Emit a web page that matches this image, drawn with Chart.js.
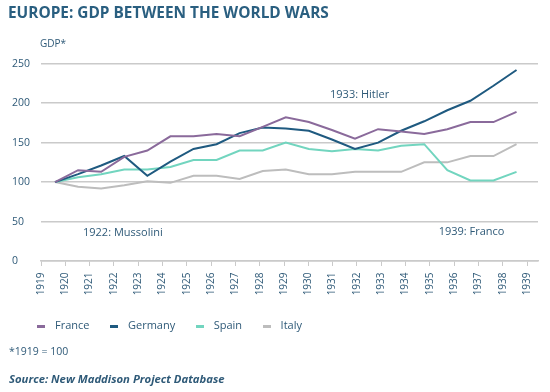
<!DOCTYPE html>
<html>
<head>
<meta charset="utf-8">
<script src="https://cdn.jsdelivr.net/npm/chart.js@4.4.1/dist/chart.umd.min.js"></script>
<style>
  body { margin: 0; background: #fff; }
  #wrap { width: 550px; height: 392px; }
</style>
</head>
<body>
<div id="wrap"><canvas id="gdpChart"></canvas></div>
<script>
/* ----- data (1919 = 100) ----- */
const years = [1919, 1920, 1921, 1922, 1923, 1924, 1925, 1926, 1927, 1928, 1929,
               1930, 1931, 1932, 1933, 1934, 1935, 1936, 1937, 1938, 1939];
const france  = [100, 115, 113, 132, 140, 158, 158, 161, 158, 170, 182, 176, 166, 155, 167, 164, 161, 167, 176, 176, 189];
const germany = [100, 110, 121, 133, 108, 126, 142, 148, 162, 169, 168, 165, 154, 142, 150, 165, 177, 191, 203, 222, 242];
const spain   = [100, 106, 110, 116, 116, 119, 128, 128, 140, 140, 150, 142, 139, 142, 140, 146, 148, 115, 102, 102, 113];
const italy   = [100,  94,  92,  96, 101,  99, 108, 108, 104, 114, 116, 110, 110, 113, 113, 113, 125, 125, 133, 133, 148];

const seriesNames  = ['France', 'Germany', 'Spain', 'Italy'];
const seriesValues = [france, germany, spain, italy];
const seriesColors = ['#8a6a9b', '#1f5a80', '#72d5bf', '#bdbdbd'];

const yMax = 250;
const yStep = 50;

// text labels placed on the chart (year / value positions)
const notes = [
  { text: '1922: Mussolini', year: 1921.94, value: 36 },
  { text: '1933: Hitler',    year: 1932.2,  value: 210.7 },
  { text: '1939: Franco',    year: 1937.05, value: 36.7 }
];

const textColor = '#2f5a78';
const gridColor = '#cacaca';
const font = "'Open Sans', sans-serif";
Chart.defaults.font.family = font;
Chart.defaults.color = textColor;

/* small line marker for the legend */
function legendLine(color) {
  const c = document.createElement('canvas');
  c.width = 8; c.height = 3;
  const g = c.getContext('2d');
  g.fillStyle = color;
  g.fillRect(0, 0, 8, 3);
  return c;
}

/* extra texts: axis caption, event notes, footnotes */
const extraText = {
  id: 'extraText',
  afterLayout(chart) {
    chart.titleBlock.left -= 4;
    chart.legend.left += 4.5;
  },
  afterDraw(chart) {
    const ctx = chart.ctx;
    const xs = chart.scales.x2, ys = chart.scales.y;
    ctx.save();
    ctx.fillStyle = textColor;
    ctx.textBaseline = 'middle';

    ctx.textAlign = 'left';
    ctx.font = `10px ${font}`;
    ctx.fillText('GDP*', chart.chartArea.left - 1, chart.chartArea.top - 20);

    ctx.textAlign = 'center';
    ctx.font = `11px ${font}`;
    notes.forEach(n => {
      ctx.fillText(n.text, xs.getPixelForValue(n.year), ys.getPixelForValue(n.value));
    });

    ctx.textAlign = 'left';
    ctx.font = `10.5px ${font}`;
    ctx.fillText('*1919 = 100', 9, 352);
    ctx.font = `italic bold 11.3px ${font}`;
    ctx.fillText('Source: New Maddison Project Database', 9, 380);
    ctx.restore();
  }
};

new Chart(document.getElementById('gdpChart'), {
  type: 'line',
  data: {
    labels: years,
    datasets: seriesNames.map((name, i) => ({
      label: name,
      data: seriesValues[i],
      xAxisID: 'x2',
      borderColor: seriesColors[i],
      backgroundColor: seriesColors[i],
      borderWidth: 2,
      pointRadius: 0,
      pointStyle: legendLine(seriesColors[i]),
      tension: 0
    }))
  },
  options: {
    responsive: true,
    maintainAspectRatio: false,
    animation: false,
    layout: { padding: { left: 12, right: 12, top: 0, bottom: 50.5 } },
    plugins: {
      title: {
        display: true,
        text: 'EUROPE: GDP BETWEEN THE WORLD WARS',
        align: 'start',
        color: '#2a5f80',
        font: { size: 15.4, weight: 'bold' },
        padding: { top: 4.5, bottom: 40.7 }
      },
      legend: {
        position: 'bottom',
        align: 'start',
        labels: {
          usePointStyle: true,
          pointStyleWidth: 17,
          padding: 16,
          color: textColor,
          font: { size: 11 }
        }
      },
      tooltip: { enabled: false }
    },
    scales: {
      x: {
        type: 'linear',
        min: years[0],
        max: 1939.45,
        grid: { drawOnChartArea: false, drawTicks: true, tickLength: 5, color: gridColor },
        border: { display: true, color: gridColor, width: 1.5 },
        ticks: {
          stepSize: 1,
          includeBounds: false,
          autoSkip: false,
          minRotation: 90,
          maxRotation: 90,
          padding: 6.5,
          color: textColor,
          font: { size: 10 },
          callback: v => years.includes(v) ? String(v) : ''
        },
        afterFit: s => { s.height = 43.5; }
      },
      x2: {
        type: 'linear',
        display: false,
        min: 1918.393,
        max: 1939.93
      },
      y: {
        min: 0,
        max: yMax,
        grid: { color: gridColor, lineWidth: 1.5, drawTicks: false },
        border: { display: false },
        ticks: {
          stepSize: yStep,
          crossAlign: 'far',
          color: textColor,
          font: { size: 10.5 }
        },
        afterFit: s => { s.width = 29; }
      }
    }
  },
  plugins: [extraText]
});
</script>
</body>
</html>
